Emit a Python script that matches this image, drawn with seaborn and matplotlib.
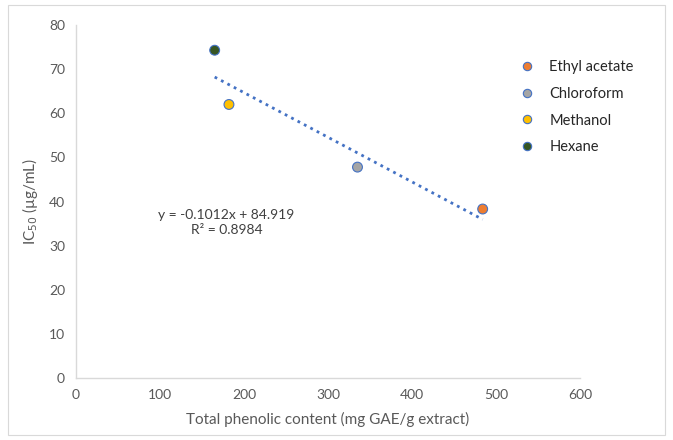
import numpy as np
import pandas as pd
import seaborn as sns
import matplotlib.pyplot as plt
from matplotlib.patches import Rectangle

# data
solvents = ["Ethyl acetate", "Chloroform", "Methanol", "Hexane"]
tpc = [484, 335, 182, 165]  # mg GAE/g extract
ic50 = [38.3, 47.8, 62.0, 74.3]  # ug/mL
colors = ["#ED7D31", "#A5A5A5", "#FFC000", "#375623"]

slope = -0.1012
intercept = 84.919
r2 = 0.8984

df = pd.DataFrame({"solvent": solvents, "tpc": tpc, "ic50": ic50})

sns.set_style("white")
plt.rcParams["font.family"] = ["Lato", "DejaVu Sans"]

fig = plt.figure(figsize=(6.73, 4.40), dpi=100)
ax = fig.add_axes([0.113, 0.141, 0.749, 0.802])

# outer chart border like excel
fig.patches.append(Rectangle((0.012, 0.012), 0.976, 0.976, transform=fig.transFigure,
                             fill=False, edgecolor="#D9D9D9", linewidth=0.8))

# linear trendline
xs = np.array([min(tpc), max(tpc)])
ax.plot(xs, slope * xs + intercept, linestyle=(0, (1, 1.6)), color="#4472C4",
        linewidth=2, zorder=2)

sns.scatterplot(data=df, x="tpc", y="ic50", hue="solvent", hue_order=solvents,
                palette=colors, s=50, edgecolor="#4472C4", linewidth=0.8,
                ax=ax, zorder=3)

ax.text(179, 35.2, "y = " + str(slope) + "x + " + str(intercept) + "\nR\u00b2 = " + str(r2),
        ha="center", va="center", fontsize=10, color="#404040", linespacing=1.3)

ax.set_xlim(0, 600)
ax.set_ylim(0, 80)
ax.set_xticks(range(0, 601, 100))
ax.set_yticks(range(0, 81, 10))
ax.tick_params(colors="#595959", labelsize=10, length=0, pad=8)
for s in ["top", "right"]:
    ax.spines[s].set_visible(False)
for s in ["left", "bottom"]:
    ax.spines[s].set_color("#D9D9D9")
    ax.spines[s].set_linewidth(1)

ax.set_xlabel("Total phenolic content (mg GAE/g extract)", fontsize=11, color="#595959",
              labelpad=8)
ax.set_ylabel("IC$_{50}$ (\u00b5g/mL)", fontsize=11, color="#595959", labelpad=6)

leg = ax.legend(loc="upper left", bbox_to_anchor=(0.855, 0.918), frameon=False,
                fontsize=10.5, labelspacing=0.88, handletextpad=0.5, markerscale=0.85,
                borderaxespad=0)
for t in leg.get_texts():
    t.set_color("#262626")

fig.savefig("out.png", dpi=100)
